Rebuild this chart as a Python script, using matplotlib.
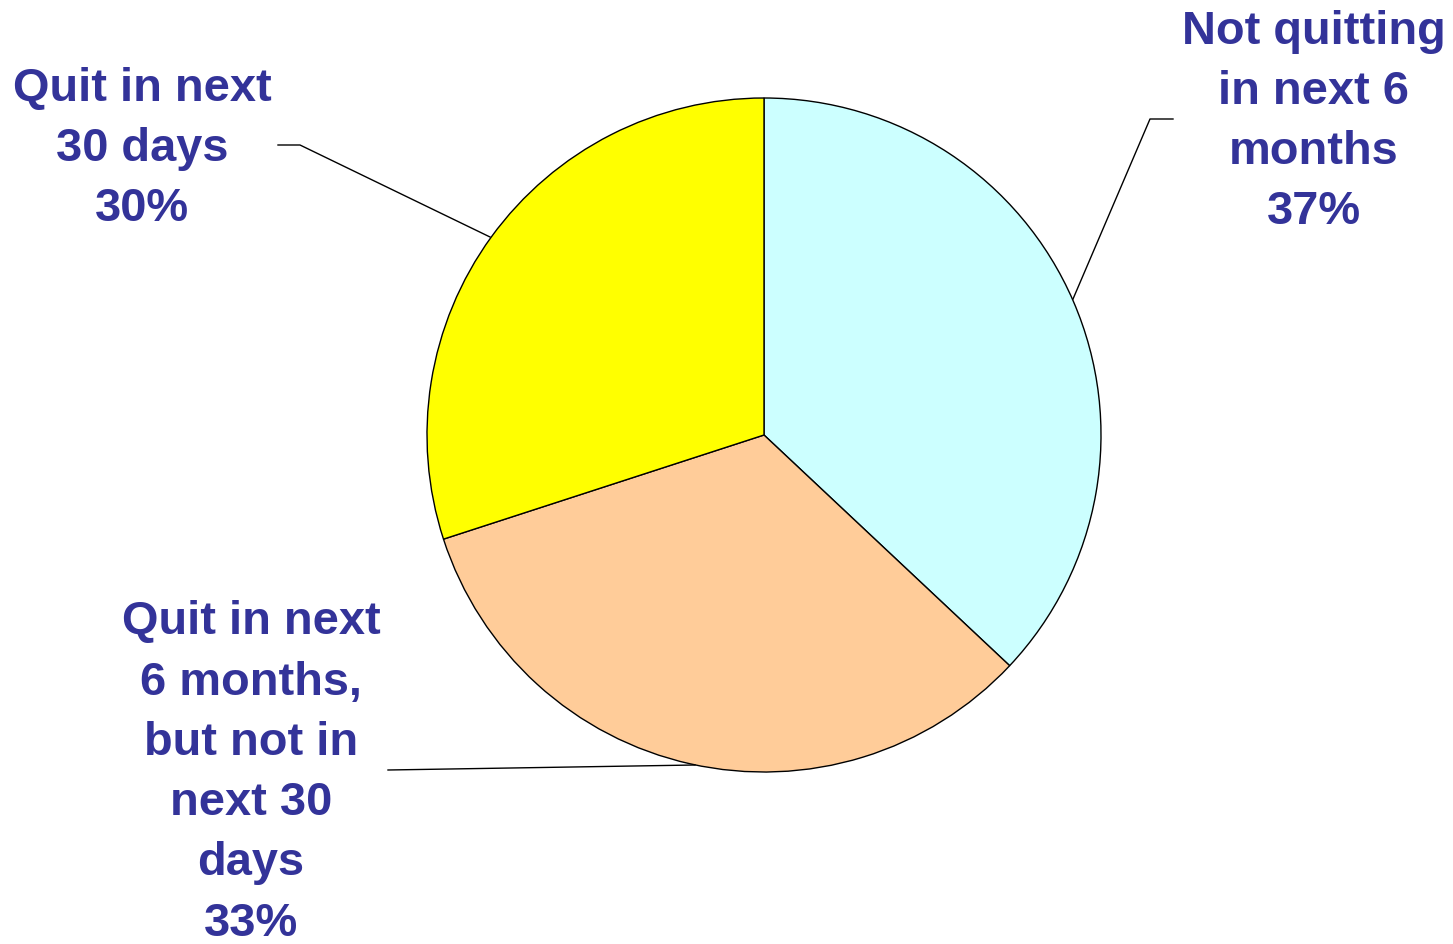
import matplotlib.pyplot as plt

# slice data, clockwise from 12 o'clock
labels = ['Not quitting\nin next 6\nmonths', 'Quit in next\n6 months,\nbut not in\nnext 30\ndays', 'Quit in next\n30 days']
values = [37, 33, 30]
colors = ['#CCFFFF', '#FFCC99', '#FFFF00']

W, H = 1453, 944
fig = plt.figure(figsize=(W / 100, H / 100), dpi=100)
ax = fig.add_axes([0, 0, 1, 1])

cx, cy, r = 764, H - 435, 337
ax.pie(values, colors=colors, startangle=90, counterclock=False,
       center=(cx, cy), radius=r,
       wedgeprops=dict(edgecolor='black', linewidth=1))
ax.set_xlim(0, W)
ax.set_ylim(0, H)
ax.set_aspect('equal')
ax.axis('off')

txt = dict(color='#333399', fontsize=33.8, fontweight='bold', family='Liberation Sans',
           ha='center', va='center', linespacing=1.48)

# label blocks with leader lines (pixel positions, y from top)
ax.text(142, H - 149, labels[2] + '\n%d%%' % values[2], **txt)
ax.plot([278, 300, 490], [H - 145, H - 145, H - 237], color='black', lw=1)

ax.text(1314, H - 122, labels[0] + '\n%d%%' % values[0], **txt)
ax.plot([1173, 1150, 1073], [H - 119, H - 119, H - 299], color='black', lw=1)

ax.text(251, H - 773, labels[1] + '\n%d%%' % values[1], **txt)
ax.plot([388, 695], [H - 770, H - 765], color='black', lw=1)

fig.savefig('out.png', dpi=100)
